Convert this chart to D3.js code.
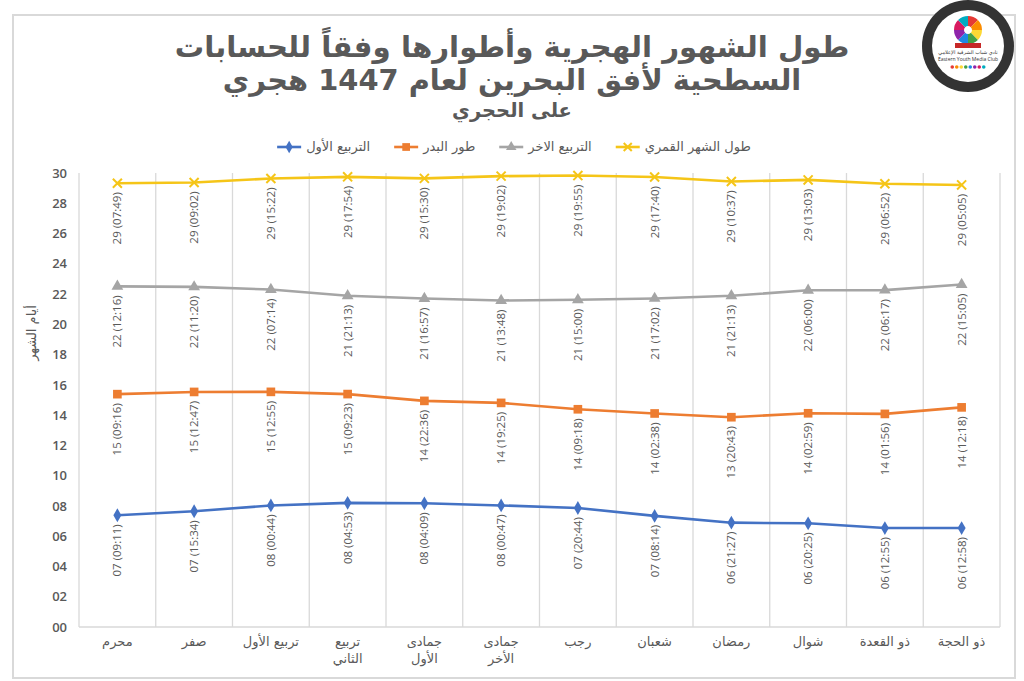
<!DOCTYPE html>
<html>
<head>
<meta charset="utf-8">
<script src="https://cdn.jsdelivr.net/npm/d3@7"></script>
<style>
  body { margin: 0; background: #fff; }
  svg { display: block; }
</style>
</head>
<body>
<svg width="1024" height="681"></svg>
<script>
// months, left to right as in the chart ("|" = line break)
const months = ['محرم', 'صفر', 'تربيع الأول', 'تربيع|الثاني', 'جمادى|الأول', 'جمادى|الأخر',
  'رجب', 'شعبان', 'رمضان', 'شوال', 'ذو القعدة', 'ذو الحجة']

const seriesNames = ['التربيع الأول', 'طور البدر', 'التربيع الاخر', 'طول الشهر القمري']

// days + fraction of day
const firstQuarter = [7.383, 7.649, 8.031, 8.203, 8.173, 8.033, 7.864, 7.343, 6.894, 6.851, 6.538, 6.540]
const fullMoon = [15.386, 15.533, 15.538, 15.391, 14.942, 14.809, 14.388, 14.110, 13.863, 14.124, 14.081, 14.513]
const lastQuarter = [22.511, 22.472, 22.301, 21.884, 21.706, 21.575, 21.625, 21.710, 21.884, 22.250, 22.262, 22.628]
const lunarMonth = [29.326, 29.376, 29.640, 29.746, 29.646, 29.793, 29.830, 29.736, 29.442, 29.544, 29.286, 29.212]

const firstQuarterLabels = ['07 (09:11)', '07 (15:34)', '08 (00:44)', '08 (04:53)', '08 (04:09)', '08 (00:47)',
  '07 (20:44)', '07 (08:14)', '06 (21:27)', '06 (20:25)', '06 (12:55)', '06 (12:58)']
const fullMoonLabels = ['15 (09:16)', '15 (12:47)', '15 (12:55)', '15 (09:23)', '14 (22:36)', '14 (19:25)',
  '14 (09:18)', '14 (02:38)', '13 (20:43)', '14 (02:59)', '14 (01:56)', '14 (12:18)']
const lastQuarterLabels = ['22 (12:16)', '22 (11:20)', '22 (07:14)', '21 (21:13)', '21 (16:57)', '21 (13:48)',
  '21 (15:00)', '21 (17:02)', '21 (21:13)', '22 (06:00)', '22 (06:17)', '22 (15:05)']
const lunarMonthLabels = ['29 (07:49)', '29 (09:02)', '29 (15:22)', '29 (17:54)', '29 (15:30)', '29 (19:02)',
  '29 (19:55)', '29 (17:40)', '29 (10:37)', '29 (13:03)', '29 (06:52)', '29 (05:05)']

const yTicks = d3.range(0, 31, 2)

const titleLines = ['طول الشهور الهجرية وأطوارها وفقاً للحسابات', 'السطحية لأفق البحرين لعام 1447 هجري', 'على الحجري']
const yTitle = 'أيام الشهر'

const arabicFont = '"DejaVu Sans", sans-serif'
const numFont = '"Open Sans", "DejaVu Sans", sans-serif'
const textColor = '#595959'
const gridColor = '#d9d9d9'

const series = [
  { name: seriesNames[0], values: firstQuarter, labels: firstQuarterLabels, color: '#4472C4', symbol: d3.symbolDiamond, size: 55, fill: true },
  { name: seriesNames[1], values: fullMoon, labels: fullMoonLabels, color: '#ED7D31', symbol: d3.symbolSquare, size: 75, fill: true },
  { name: seriesNames[2], values: lastQuarter, labels: lastQuarterLabels, color: '#A5A5A5', symbol: d3.symbolTriangle, size: 60, fill: true },
  { name: seriesNames[3], values: lunarMonth, labels: lunarMonthLabels, color: '#F5C518', symbol: d3.symbolTimes, size: 55, fill: false },
]

const svg = d3.select('svg')

// outer chart frame
svg.append('rect')
  .attr('x', 13).attr('y', 15)
  .attr('width', 1002).attr('height', 663)
  .attr('fill', 'none')
  .attr('stroke', gridColor)
  .attr('stroke-width', 2)

// title, each line fitted to its width in the picture
const titleSpec = [
  { y: 57, width: 675, size: 30 },
  { y: 90, width: 578, size: 30 },
  { y: 117, width: 120, size: 22 },
]
titleLines.forEach((line, i) => {
  const spec = titleSpec[i]
  const t = svg.append('text')
    .attr('x', 512).attr('y', spec.y)
    .attr('text-anchor', 'middle')
    .attr('font-family', arabicFont)
    .attr('font-weight', 'bold')
    .attr('font-size', spec.size)
    .attr('fill', textColor)
    .text(line)
  const w = t.node().getComputedTextLength()
  t.attr('font-size', (spec.size * spec.width / w).toFixed(1))
})

const x = d3.scaleBand().domain(d3.range(months.length)).range([79, 1000])
const y = d3.scaleLinear().domain([0, 30]).range([627, 173])
const cx = i => x(i) + x.bandwidth() / 2

// vertical gridlines between categories
const bounds = d3.range(months.length + 1).map(i => i < months.length ? x(i) : x.range()[1])
svg.append('g')
  .selectAll('line')
  .data(bounds)
  .join('line')
  .attr('x1', d => d).attr('x2', d => d)
  .attr('y1', y(30)).attr('y2', y(0))
  .attr('stroke', gridColor)
  .attr('stroke-width', 1.3)

svg.append('line')
  .attr('x1', x.range()[0]).attr('x2', x.range()[1])
  .attr('y1', y(0)).attr('y2', y(0))
  .attr('stroke', gridColor)
  .attr('stroke-width', 1.5)

// y axis labels
const yAxis = d3.axisLeft(y).tickValues(yTicks).tickFormat(d3.format('02d')).tickSize(0).tickPadding(12)
const yg = svg.append('g').attr('transform', `translate(${x.range()[0]},0)`).call(yAxis)
yg.select('.domain').remove()
yg.selectAll('text')
  .attr('font-family', numFont)
  .attr('font-size', 13)
  .attr('font-weight', 600)
  .attr('fill', textColor)

svg.append('text')
  .attr('transform', 'translate(36,333) rotate(-90)')
  .attr('text-anchor', 'middle')
  .attr('font-family', arabicFont)
  .attr('font-size', 13)
  .attr('fill', textColor)
  .text(yTitle)

// x axis labels
const xl = svg.append('g')
  .selectAll('text')
  .data(months)
  .join('text')
  .attr('x', (d, i) => cx(i))
  .attr('y', 646)
  .attr('text-anchor', 'middle')
  .attr('font-family', arabicFont)
  .attr('font-size', 13)
  .attr('fill', textColor)
xl.selectAll('tspan')
  .data(d => d.split('|'))
  .join('tspan')
  .attr('x', function () { return this.parentNode.getAttribute('x') })
  .attr('dy', (d, i) => i === 0 ? 0 : 17)
  .text(d => d)

// series lines, markers and labels
const line = d3.line().x((d, i) => cx(i)).y(d => y(d))

series.forEach(s => {
  const g = svg.append('g')
  g.append('path')
    .datum(s.values)
    .attr('fill', 'none')
    .attr('stroke', s.color)
    .attr('stroke-width', 2.6)
    .attr('stroke-linejoin', 'round')
    .attr('d', line)

  g.selectAll('path.marker')
    .data(s.values)
    .join('path')
    .attr('class', 'marker')
    .attr('transform', (d, i) => `translate(${cx(i)},${y(d)})`)
    .attr('d', d3.symbol(s.symbol, s.size))
    .attr('fill', s.fill ? s.color : 'none')
    .attr('stroke', s.color)
    .attr('stroke-width', s.fill ? 0 : 2)

  g.selectAll('text')
    .data(s.values)
    .join('text')
    .attr('transform', (d, i) => `translate(${cx(i) + 4},${y(d) + 9}) rotate(-90)`)
    .attr('text-anchor', 'end')
    .attr('font-family', numFont)
    .attr('font-size', 11.5)
    .attr('fill', textColor)
    .text((d, i) => s.labels[i])
})

// legend, laid out right to left
const legend = svg.append('g')
const items = series.slice().reverse()
const lineW = 24
const gap = 24
const measured = items.map(s => {
  const t = legend.append('text')
    .attr('y', 151)
    .attr('text-anchor', 'end')
    .attr('font-family', arabicFont)
    .attr('font-size', 13)
    .attr('fill', textColor)
    .text(s.name)
  return { s, t, w: t.node().getComputedTextLength() }
})
const total = d3.sum(measured, m => m.w + 5 + lineW) + gap * (measured.length - 1)
let right = 514 + total / 2
measured.forEach(m => {
  m.t.attr('x', right)
  const lx = right - m.w - 5 - lineW
  legend.append('line')
    .attr('x1', lx).attr('x2', lx + lineW)
    .attr('y1', 147).attr('y2', 147)
    .attr('stroke', m.s.color)
    .attr('stroke-width', 2.6)
  legend.append('path')
    .attr('transform', `translate(${lx + lineW / 2},147)`)
    .attr('d', d3.symbol(m.s.symbol, m.s.size * 0.8))
    .attr('fill', m.s.fill ? m.s.color : 'none')
    .attr('stroke', m.s.color)
    .attr('stroke-width', m.s.fill ? 0 : 2)
  right = lx - gap
})

// club logo, top right
const logo = svg.append('g').attr('transform', 'translate(968,46)')
logo.append('circle').attr('r', 46).attr('fill', '#333')
logo.append('circle').attr('r', 36).attr('fill', '#fff')
const petals = ['#e53935', '#fb8c00', '#fdd835', '#43a047', '#1e88e5', '#8e24aa', '#d81b60', '#00acc1']
const pie = d3.pie().sort(null)(petals.map(() => 1))
logo.append('g').attr('transform', 'translate(0,-16)')
  .selectAll('path')
  .data(pie)
  .join('path')
  .attr('d', d3.arc().innerRadius(4).outerRadius(14))
  .attr('fill', (d, i) => petals[i])
logo.append('rect').attr('x', -13).attr('y', -3).attr('width', 26).attr('height', 5).attr('fill', '#c62828')
logo.append('text').attr('y', 8).attr('text-anchor', 'middle')
  .attr('font-family', arabicFont).attr('font-size', 5).attr('fill', '#333').text('نادي شباب الشرقية الإعلامي')
logo.append('text').attr('y', 15).attr('text-anchor', 'middle')
  .attr('font-family', numFont).attr('font-size', 5).attr('fill', '#333').text('Eastern Youth Media Club')
logo.append('g')
  .selectAll('circle')
  .data(petals)
  .join('circle')
  .attr('cx', (d, i) => (i - 3.5) * 4.5)
  .attr('cy', 21)
  .attr('r', 1.8)
  .attr('fill', d => d)
</script>
</body>
</html>
